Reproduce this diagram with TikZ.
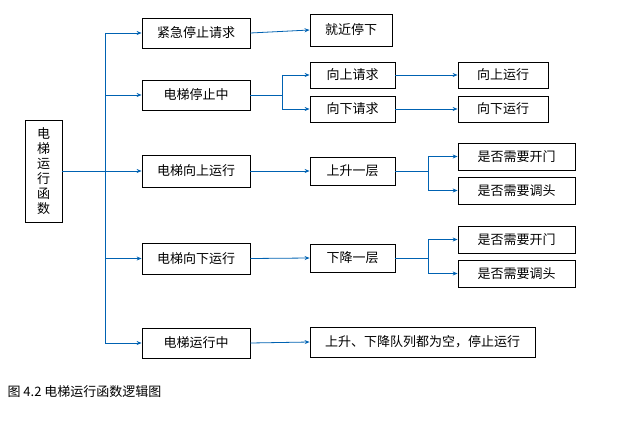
\documentclass[tikz,border=0pt]{standalone}
\usepackage{fontspec}
\setmainfont{Noto Sans CJK SC}
\usetikzlibrary{arrows.meta}
\begin{document}
\begin{tikzpicture}[x=1pt,y=-1pt,
  bx/.style={draw=black,thick,fill=white,inner sep=0pt,font=\fontsize{13}{15}\selectfont},
  ln/.style={draw=blue!45!cyan!70!black,line width=0.8pt},
  ar/.style={ln,-{Stealth[length=5pt,width=4pt]}}]
\useasboundingbox (0,0) rectangle (617,433);
\newcommand{\bx}[6]{\node[bx,minimum width=#4-#2,minimum height=#5-#3] (#1) at ({(#2+#4)/2},{(#3+#5)/2}) {#6};}
\bx{main}{25}{120}{62}{222}{\parbox{1em}{\centering 电\\梯\\运\\行\\函\\数}}
\bx{a1}{142}{18}{250}{48}{紧急停止请求}
\bx{a2}{142}{80}{250}{110}{电梯停止中}
\bx{a3}{142}{155}{250}{187}{电梯向上运行}
\bx{a4}{142}{243}{250}{274}{电梯向下运行}
\bx{a5}{142}{328}{250}{358}{电梯运行中}
\bx{b1}{310}{14}{392}{46}{就近停下}
\bx{b2}{310}{62}{395}{88}{向上请求}
\bx{b3}{310}{96}{395}{122}{向下请求}
\bx{b4}{310}{157}{395}{185}{上升一层}
\bx{b5}{310}{244}{395}{272}{下降一层}
\bx{b6}{310}{327}{535}{357}{上升、下降队列都为空，停止运行}
\bx{c1}{458}{62}{548}{88}{向上运行}
\bx{c2}{458}{96}{548}{122}{向下运行}
\bx{c3}{458}{143}{575}{170}{是否需要开门}
\bx{c4}{458}{177}{575}{204}{是否需要调头}
\bx{c5}{458}{226}{575}{253}{是否需要开门}
\bx{c6}{458}{260}{575}{287}{是否需要调头}
\node[anchor=west,font=\fontsize{13}{15}\selectfont] (cap) at (4,392) {图 4.2 电梯运行函数逻辑图};
\coordinate (t1) at (105,33); \coordinate (t5) at (105,343);
\draw[ln] (t1) -- (t5);
\draw[ar] (main.east) -- (a3.west);
\foreach \n in {a1,a2,a4,a5} \draw[ar] (t1|-\n.west) -- (\n.west);
\draw[ar] (a1.east) -- (b1.west);
\draw[ar] (a3.east) -- (b4.west);
\draw[ar] (a4.east) -- (b5.west);
\draw[ar] (a5.east) -- (b6.west);
\coordinate (s2) at (282,95);
\draw[ln] (a2.east) -- (s2) (s2|-b2.west) -- (s2|-b3.west);
\draw[ar] (s2|-b2.west) -- (b2.west);
\draw[ar] (s2|-b3.west) -- (b3.west);
\draw[ar] (b2.east) -- (c1.west);
\draw[ar] (b3.east) -- (c2.west);
\coordinate (s4) at (428,171);
\draw[ln] (b4.east) -- (s4) (s4|-c3.west) -- (s4|-c4.west);
\draw[ar] (s4|-c3.west) -- (c3.west);
\draw[ar] (s4|-c4.west) -- (c4.west);
\coordinate (s5) at (428,258);
\draw[ln] (b5.east) -- (s5) (s5|-c5.west) -- (s5|-c6.west);
\draw[ar] (s5|-c5.west) -- (c5.west);
\draw[ar] (s5|-c6.west) -- (c6.west);
\end{tikzpicture}
\end{document}
